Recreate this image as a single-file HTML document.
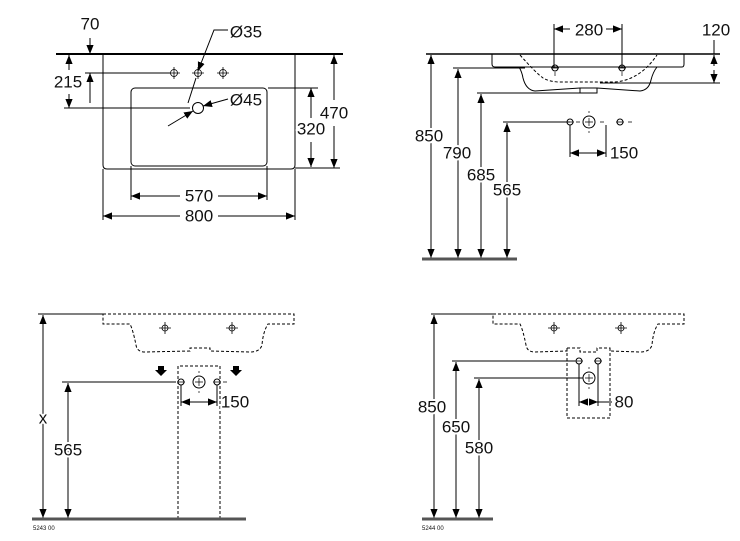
<!DOCTYPE html>
<html><head><meta charset="utf-8"><style>
html,body{margin:0;padding:0;background:#fff;}
svg{display:block;}
text{font-family:"Liberation Sans",sans-serif;font-size:17px;fill:#111;paint-order:stroke;stroke:#fff;stroke-width:4px;}
.s{font-size:6px;stroke-width:0;}
</style></head><body>
<svg width="740" height="541" viewBox="0 0 740 541" xmlns="http://www.w3.org/2000/svg">
<defs>
<marker id="a" viewBox="0 0 10 10" refX="10" refY="5" markerWidth="9" markerHeight="9" markerUnits="userSpaceOnUse" orient="auto-start-reverse"><path d="M0,1 L10,5 L0,9z" fill="#000"/></marker>
</defs>
<g stroke="#000" stroke-width="1" fill="none">
<!-- TOP LEFT -->
<line x1="56" y1="54" x2="343" y2="54" stroke-width="2"/>
<path d="M103,54 V165 Q103,169 107,169 H291 Q295,169 295,165 V54"/>
<rect x="131" y="88" width="136" height="78" rx="4"/>
<line x1="103" y1="169" x2="103" y2="220"/><line x1="295" y1="169" x2="295" y2="220"/>
<line x1="131" y1="166" x2="131" y2="200"/><line x1="267" y1="166" x2="267" y2="200"/>
<line x1="131" y1="196" x2="180" y2="196" marker-start="url(#a)"/>
<line x1="218" y1="196" x2="267" y2="196" marker-end="url(#a)"/>
<line x1="103" y1="216" x2="180" y2="216" marker-start="url(#a)"/>
<line x1="218" y1="216" x2="295" y2="216" marker-end="url(#a)"/>
<line x1="268" y1="88" x2="318" y2="88"/><line x1="295" y1="168" x2="340" y2="168"/>
<line x1="311" y1="88" x2="311" y2="118" marker-start="url(#a)"/>
<line x1="311" y1="142" x2="311" y2="167" marker-end="url(#a)"/>
<line x1="334" y1="55" x2="334" y2="100" marker-start="url(#a)"/>
<line x1="334" y1="126" x2="334" y2="168" marker-end="url(#a)"/>
<line x1="85" y1="73" x2="170" y2="73"/>
<line x1="64" y1="108" x2="190" y2="108"/>
<line x1="69" y1="55" x2="69" y2="70" marker-start="url(#a)"/>
<line x1="69" y1="94" x2="69" y2="108" marker-end="url(#a)"/>
<line x1="90" y1="38" x2="90" y2="54" marker-end="url(#a)"/>
<line x1="90" y1="73" x2="90" y2="103" marker-start="url(#a)"/>
<g stroke-width="0.8">
<circle cx="174" cy="73" r="3.5"/><path d="M168,73h12M174,67v12"/>
<circle cx="198" cy="73" r="3.5"/><path d="M192,73h12M198,67v12"/>
<circle cx="223" cy="73" r="3.5"/><path d="M217,73h12M223,67v12"/>
</g>
<circle cx="198" cy="108" r="5.5"/>
<path d="M228,30 H214 L198,71" marker-end="url(#a)"/>
<line x1="196" y1="78" x2="188" y2="103"/>
<line x1="168" y1="126" x2="193" y2="111" marker-end="url(#a)"/>
<line x1="228" y1="99" x2="203" y2="106" marker-end="url(#a)"/>
<!-- TOP RIGHT -->
<line x1="426" y1="54" x2="720" y2="54" stroke-width="1.5"/>
<path d="M492,54 V64 Q492,67 495,67 H682 Q684,67 684,64 V54"/>
<path d="M519,67 Q522,72 523,78 Q526,90 535,91 L580,88 H597 L640,91 Q649,90 651,80 Q653,72 657,67"/>
<path d="M580,88 V93 H597 V88"/>
<path d="M520,55 Q535,72 543,78 Q550,82 560,82 H615 Q640,80 657,55" stroke-dasharray="3,2"/>
<circle cx="555" cy="68" r="3"/><circle cx="622" cy="68" r="3"/>
<path d="M551,68h8M618,68h8M555,72v4M622,72v4" stroke-width="0.7"/>
<line x1="554" y1="24" x2="554" y2="68"/><line x1="622" y1="24" x2="622" y2="68"/>
<line x1="554" y1="29" x2="570" y2="29" marker-start="url(#a)"/>
<line x1="606" y1="29" x2="622" y2="29" marker-end="url(#a)"/>
<line x1="714" y1="40" x2="714" y2="54"/>
<line x1="714" y1="66" x2="714" y2="55" marker-end="url(#a)"/>
<line x1="714" y1="70" x2="714" y2="83" marker-end="url(#a)"/>
<line x1="600" y1="83" x2="720" y2="83"/>
<line x1="453" y1="68" x2="525" y2="68"/>
<line x1="477" y1="93" x2="580" y2="93"/>
<line x1="503" y1="122" x2="570" y2="122"/>
<line x1="431" y1="55" x2="431" y2="258" marker-start="url(#a)" marker-end="url(#a)"/>
<line x1="458" y1="69" x2="458" y2="258" marker-start="url(#a)" marker-end="url(#a)"/>
<line x1="481" y1="94" x2="481" y2="258" marker-start="url(#a)" marker-end="url(#a)"/>
<line x1="507" y1="123" x2="507" y2="258" marker-start="url(#a)" marker-end="url(#a)"/>
<line x1="422" y1="259" x2="517" y2="259" stroke="#555" stroke-width="3"/>
<circle cx="570" cy="122" r="3"/><circle cx="620" cy="122" r="3"/><circle cx="589" cy="122" r="6"/>
<path d="M566,122h8M616,122h8M585,122h8M589,118v8M589,113v-2M589,131v2M576,122h4M600,122h4M628,122h4" stroke-width="0.7"/>
<line x1="570" y1="125" x2="570" y2="157"/><line x1="606" y1="125" x2="606" y2="157"/>
<line x1="570" y1="153" x2="606" y2="153" marker-start="url(#a)" marker-end="url(#a)"/>
<!-- BOTTOM LEFT -->
<line x1="38" y1="314" x2="103" y2="314"/>
<path d="M103,314 H294 V324 H268 Q263,332 262,345 Q260,352 250,352 L210,351 V348 H190 V351 L145,352 Q137,352 136,345 Q133,330 130,324 H103 Z" stroke-dasharray="3,2"/>
<g stroke-width="0.8"><circle cx="165" cy="328" r="3"/><path d="M159,328h12M165,322v12"/>
<circle cx="232" cy="328" r="3"/><path d="M226,328h12M232,322v12"/></g>
<path d="M178,519 V366 H220 V519" stroke-dasharray="3,2"/>
<circle cx="181" cy="382" r="3"/><circle cx="217" cy="382" r="3"/><circle cx="199" cy="382" r="6"/>
<path d="M177,382h8M213,382h8M195,382h8M199,378v8M199,373v-2M199,391v2M223,382h4" stroke-width="0.7"/>
<line x1="62" y1="382" x2="176" y2="382"/>
<line x1="181" y1="385" x2="181" y2="406"/><line x1="217" y1="385" x2="217" y2="406"/>
<line x1="181" y1="402" x2="217" y2="402" marker-start="url(#a)" marker-end="url(#a)"/>
<line x1="43" y1="315" x2="43" y2="518" marker-start="url(#a)" marker-end="url(#a)"/>
<line x1="68" y1="383" x2="68" y2="518" marker-start="url(#a)" marker-end="url(#a)"/>
<line x1="32" y1="519" x2="246" y2="519" stroke="#555" stroke-width="3"/>
<!-- BOTTOM RIGHT -->
<line x1="431" y1="314" x2="493" y2="314"/>
<path d="M493,314 H684 V324 H658 Q653,332 652,345 Q650,352 640,352 L610,351 V348 H597 V352 H580 V348 H567 V351 L535,352 Q527,352 526,345 Q523,330 520,324 H493 Z" stroke-dasharray="3,2"/>
<path d="M567,348 V418 H610 V348" stroke-dasharray="3,2"/>
<g stroke-width="0.8"><circle cx="554" cy="328" r="3"/><path d="M548,328h12M554,322v12"/>
<circle cx="621" cy="328" r="3"/><path d="M615,328h12M621,322v12"/></g>
<circle cx="579" cy="361" r="3"/><circle cx="598" cy="361" r="3"/><circle cx="589" cy="378" r="6"/>
<path d="M575,361h8M594,361h8M585,378h8M589,374v8M589,369v-2M589,387v2" stroke-width="0.7"/>
<line x1="452" y1="361" x2="575" y2="361"/>
<line x1="474" y1="378" x2="583" y2="378"/>
<line x1="579" y1="364" x2="579" y2="406"/><line x1="598" y1="364" x2="598" y2="406"/>
<line x1="588" y1="402" x2="579" y2="402" marker-end="url(#a)"/>
<line x1="589" y1="402" x2="598" y2="402" marker-end="url(#a)"/>
<line x1="598" y1="402" x2="612" y2="402"/>
<line x1="434" y1="315" x2="434" y2="518" marker-start="url(#a)" marker-end="url(#a)"/>
<line x1="456" y1="362" x2="456" y2="518" marker-start="url(#a)" marker-end="url(#a)"/>
<line x1="479" y1="379" x2="479" y2="518" marker-start="url(#a)" marker-end="url(#a)"/>
<line x1="422" y1="519" x2="493" y2="519" stroke="#555" stroke-width="3"/>
</g>
<g fill="#000">
<path d="M158,366h6v4h3l-6,6l-6,-6h3z"/><path d="M233,366h6v4h3l-6,6l-6,-6h3z"/>
</g>
<g text-anchor="middle" dominant-baseline="central">
<text x="90" y="24">70</text>
<text x="246" y="32">Ø35</text>
<text x="68" y="82">215</text>
<text x="246" y="100">Ø45</text>
<text x="311" y="129">320</text>
<text x="334" y="113">470</text>
<text x="199" y="196">570</text>
<text x="199" y="216">800</text>
<text x="589" y="30">280</text>
<text x="716" y="30">120</text>
<text x="429" y="136">850</text>
<text x="457" y="153">790</text>
<text x="481" y="175">685</text>
<text x="507" y="190">565</text>
<text x="624" y="153">150</text>
<text x="43" y="418">x</text>
<text x="68" y="450">565</text>
<text x="235" y="402">150</text>
<text x="432" y="407">850</text>
<text x="456" y="427">650</text>
<text x="479" y="448">580</text>
<text x="624" y="402">80</text>
</g>
<text class="s" x="33" y="530">5243 00</text>
<text class="s" x="422" y="530">5244 00</text>
</svg>
</body></html>
